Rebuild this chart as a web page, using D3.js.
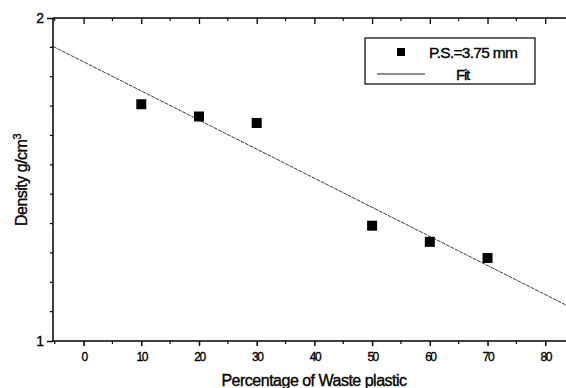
<!DOCTYPE html>
<html><head><meta charset="utf-8">
<script src="https://cdn.jsdelivr.net/npm/d3@7"></script>
<style>
html,body{margin:0;padding:0;background:#fff;overflow:hidden}
svg text{font-family:"Liberation Sans",Arial,sans-serif;fill:#000;stroke:#000;stroke-width:0.35px}
</style></head>
<body><svg id="c" width="566" height="388"></svg>
<script>
const percent = [10, 20, 30, 50, 60, 70];
const density = [1.733, 1.695, 1.675, 1.357, 1.307, 1.257];
const xTickLabels = [0, 10, 20, 30, 40, 50, 60, 70, 80];
const yTickLabels = [1, 2];
const seriesName = "P.S.=3.75 mm";
const fitName = "Fit";

// least-squares fit line from the data
const mx = d3.mean(percent), my = d3.mean(density);
const slope = d3.sum(percent.map((v,i)=>(v-mx)*(density[i]-my))) / d3.sum(percent.map(v=>(v-mx)*(v-mx)));
const intercept = my - slope*mx;

const svg = d3.select("#c");
const L = 53, R = 566, T = 18, B = 341;
const x = d3.scaleLinear().domain([-5.3, 83.6]).range([L, R]);
const y = d3.scaleLinear().domain([1, 2]).range([B, T]);

// frame
const g = svg.append("g");
g.append("line").attr("x1",L).attr("x2",R).attr("y1",B).attr("y2",B).attr("stroke","#000").attr("stroke-width",1.5);
g.append("line").attr("x1",L).attr("x2",R).attr("y1",T).attr("y2",T).attr("stroke","#000").attr("stroke-width",1.5);
g.append("line").attr("x1",L).attr("x2",L).attr("y1",T).attr("y2",B).attr("stroke","#000").attr("stroke-width",1.5);

// bottom axis
const xMinor = d3.range(-5, 84, 5).filter(v => v % 10 !== 0);
const bottomAxis = d3.axisBottom(x).tickValues(xTickLabels).tickSize(5).tickPadding(6).tickFormat(d3.format("d"));
const bAx = svg.append("g").attr("transform",`translate(0,${B})`).call(bottomAxis);
bAx.select(".domain").remove();
bAx.selectAll("line").attr("stroke","#000").attr("stroke-width",1.5);
bAx.selectAll("text").attr("font-size",12).attr("letter-spacing","-1.5px").attr("font-family","Liberation Sans, Arial, sans-serif");
svg.append("g").selectAll("line").data(xMinor).join("line")
  .attr("x1",d=>x(d)).attr("x2",d=>x(d)).attr("y1",B).attr("y2",B+3).attr("stroke","#000").attr("stroke-width",1.2);

// top axis ticks (inward)
const topAxis = d3.axisBottom(x).tickValues(xTickLabels).tickSize(6).tickFormat("");
const tAx = svg.append("g").attr("transform",`translate(0,${T})`).call(topAxis);
tAx.select(".domain").remove();
tAx.selectAll("line").attr("stroke","#000").attr("stroke-width",1.3);
svg.append("g").selectAll("line").data(xMinor).join("line")
  .attr("x1",d=>x(d)).attr("x2",d=>x(d)).attr("y1",T).attr("y2",T+3).attr("stroke","#000").attr("stroke-width",1.1);

// left axis
const leftAxis = d3.axisLeft(y).tickValues(yTickLabels).tickSize(6).tickPadding(3).tickFormat(d3.format("d"));
const lAx = svg.append("g").attr("transform",`translate(${L},0)`).call(leftAxis);
lAx.select(".domain").remove();
lAx.selectAll("line").attr("stroke","#000").attr("stroke-width",1.5);
lAx.selectAll("text").attr("font-size",14).attr("font-family","Liberation Sans, Arial, sans-serif");
const yMinor = d3.range(1, 11).map(i => 1 + i/11);
svg.append("g").selectAll("line").data(yMinor).join("line")
  .attr("x1",L-3).attr("x2",L).attr("y1",d=>y(d)).attr("y2",d=>y(d)).attr("stroke","#000").attr("stroke-width",1.2);

// fit line
svg.append("clipPath").attr("id","pc").append("rect").attr("x",L).attr("y",T).attr("width",R-L).attr("height",B-T);
const xd = x.domain();
svg.append("line").attr("clip-path","url(#pc)")
  .attr("x1",x(xd[0])).attr("y1",y(intercept+slope*xd[0]))
  .attr("x2",x(xd[1])).attr("y2",y(intercept+slope*xd[1]))
  .attr("stroke","#222").attr("stroke-width",0.9).attr("stroke-dasharray","4,1");

// points
const s = 10;
svg.append("g").selectAll("rect").data(percent).join("rect")
  .attr("x",(d)=>x(d)-s/2).attr("y",(d,i)=>y(density[i])-s/2)
  .attr("width",s).attr("height",s).attr("fill","#000");

// legend
const lg = svg.append("g");
lg.append("rect").attr("x",365).attr("y",38).attr("width",170).attr("height",46).attr("fill","#fff").attr("stroke","#000").attr("stroke-width",1.2);
lg.append("rect").attr("x",397).attr("y",48).attr("width",8).attr("height",8).attr("fill","#000");
lg.append("text").attr("x",429).attr("y",58).attr("font-size",15.5).attr("letter-spacing","-0.7px").text(seriesName);
lg.append("line").attr("x1",377).attr("x2",425).attr("y1",74).attr("y2",74).attr("stroke","#000").attr("stroke-width",0.9);
lg.append("text").attr("x",456).attr("y",80).attr("font-size",15).attr("letter-spacing","-1.2px").text(fitName);

// axis titles
svg.append("text").attr("x",314).attr("y",386).attr("text-anchor","middle").attr("font-size",16).attr("letter-spacing","-0.5px").text("Percentage of Waste plastic");
const yt = svg.append("text").attr("transform","translate(27,180) rotate(-90)").attr("text-anchor","middle").attr("font-size",16).attr("letter-spacing","-0.5px");
yt.append("tspan").text("Density g/cm");
yt.append("tspan").attr("dy",-6).attr("font-size",11).text("3");
</script></body></html>
